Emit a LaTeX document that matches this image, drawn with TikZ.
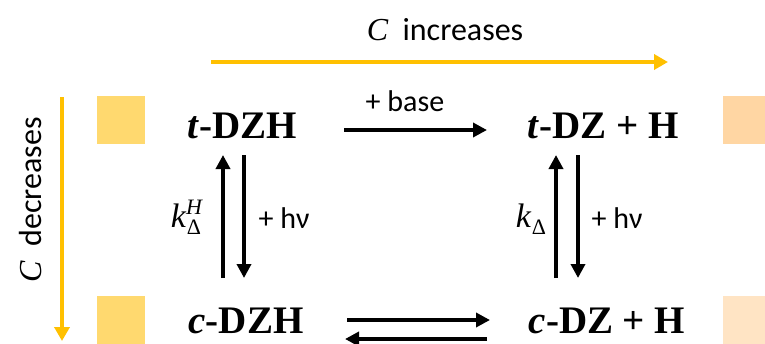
\documentclass[tikz,border=0pt]{standalone}
\usepackage{fontspec}
\setmainfont{Carlito}
\newfontfamily\chemfont{Liberation Serif}
\usetikzlibrary{arrows.meta}
\definecolor{gold}{HTML}{FFC000}
\definecolor{sqyellow}{HTML}{FFD96F}
\definecolor{sqpeach}{HTML}{FFD6A3}
\definecolor{sqlight}{HTML}{FFE4C4}
\newcommand{\smallsym}{\fontsize{22}{22}\selectfont\chemfont}
\newcommand{\myk}{{\fontsize{34}{34}\selectfont\chemfont\itshape k}\kern1pt\raisebox{-7pt}{\smallsym Δ}}
\newcommand{\myC}{{\chemfont\itshape C}}
\tikzset{
  chem/.style={anchor=base, inner sep=0pt, font=\chemfont\bfseries\fontsize{39}{41}\selectfont},
  lbl/.style={inner sep=0pt, font=\fontsize{30}{32}\selectfont},
  axis/.style={gold, line width=4pt, -{Triangle[length=14pt,width=15pt]}},
  rxn/.style={black, line width=4pt, -{Triangle[length=14pt,width=14pt]}},
  sq/.style={inner sep=0pt, minimum size=48pt, draw=none},
}
\begin{document}
\begin{tikzpicture}[x=1pt,y=-1pt]
\useasboundingbox (0,0) rectangle (765,343);
% axes
\coordinate (xa) at (211,62);
\coordinate (xb) at (668,62);
\draw[axis] (xa) -- (xb);
\node[inner sep=0pt, font=\fontsize{32}{34}\selectfont] (xlab) at (445,30) {\myC\ \ increases};
\coordinate (ya) at (62,97);
\coordinate (yb) at (62,341);
\draw[axis] (ya) -- (yb);
\node[inner sep=0pt, rotate=90, font=\fontsize{32}{34}\selectfont] (ylab) at (31,200) {\myC\ \ decreases};
% squares
\node[sq, fill=sqyellow] (s1) at (121,120) {};
\node[sq, fill=sqyellow] (s2) at (121,320) {};
\node[sq, fill=sqpeach] (s3) at (747,120) {};
\node[sq, fill=sqlight] (s4) at (747,320) {};
% species
\node[chem] (tdzh) at (242,138) {\textit{t}-DZH};
\node[chem] (tdz) at (603,138) {\textit{t}-DZ + H};
\node[chem] (cdzh) at (246,333) {\textit{c}-DZH};
\node[chem] (cdz) at (607,333) {\textit{c}-DZ + H};
% top reaction
\coordinate (t1) at (344,130);
\coordinate (t2) at (487,130);
\draw[rxn] (t1) -- (t2);
\node[lbl] (base) at (405,101) {+ base};
% bottom equilibrium
\coordinate (b1) at (347,320);
\coordinate (b2) at (490,320);
\coordinate (b3) at (487,339);
\coordinate (b4) at (345,339);
\draw[rxn] (b1) -- (b2);
\draw[rxn] (b3) -- (b4);
% left verticals
\coordinate (l1) at (223,278);
\coordinate (l2) at (223,155);
\coordinate (l3) at (244,155);
\coordinate (l4) at (244,278);
\draw[rxn] (l1) -- (l2);
\draw[rxn] (l3) -- (l4);
\node[lbl] (kH) at (186,217) {\myk\llap{\raisebox{13pt}{\smallsym\itshape H\kern-1pt}}};
\node[lbl] (hv1) at (284,218) {+ hν};
% right verticals
\coordinate (r1) at (556,278);
\coordinate (r2) at (556,155);
\coordinate (r3) at (578,155);
\coordinate (r4) at (578,278);
\draw[rxn] (r1) -- (r2);
\draw[rxn] (r3) -- (r4);
\node[lbl] (k) at (531,219) {\myk};
\node[lbl] (hv2) at (617,218) {+ hν};
\end{tikzpicture}
\end{document}
